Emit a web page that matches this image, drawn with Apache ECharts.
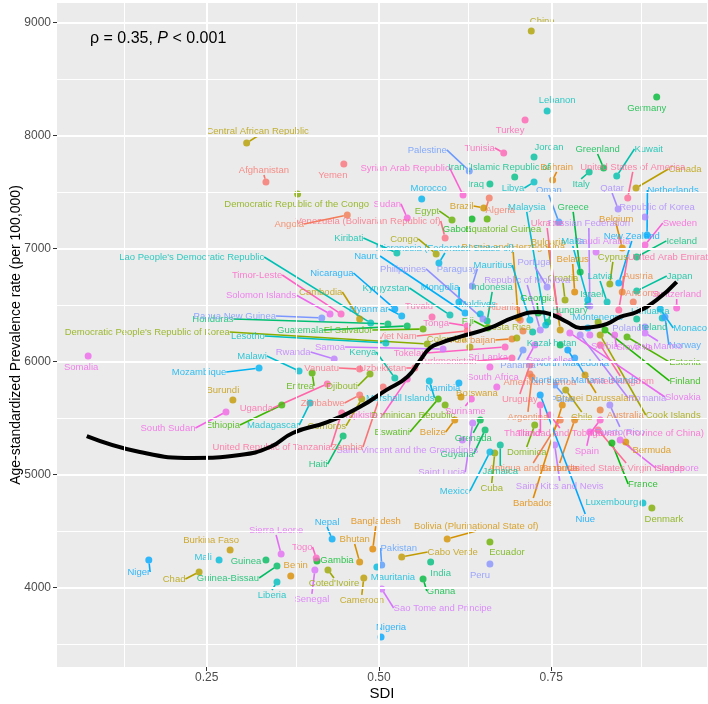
<!DOCTYPE html>
<html>
<head>
<meta charset="utf-8">
<script src="https://cdn.jsdelivr.net/npm/echarts@6/dist/echarts.min.js"></script>
<style>
  html, body { margin: 0; padding: 0; background: #fff; }
  #chart { width: 708px; height: 704px; }
</style>
</head>
<body>
<div id="chart"></div>
<script>
'use strict';

// 国家（按字母顺序，决定配色）
var countries = [
  'Afghanistan', 'Albania', 'Algeria', 'American Samoa', 'Andorra', 'Angola', 'Antigua and Barbuda', 'Argentina', 'Armenia', 'Australia',
  'Austria', 'Azerbaijan', 'Bahamas', 'Bahrain', 'Bangladesh', 'Barbados', 'Belarus', 'Belgium', 'Belize', 'Benin',
  'Bermuda', 'Bhutan', 'Bolivia (Plurinational State of)', 'Bosnia and Herzegovina', 'Botswana', 'Brazil', 'Brunei Darussalam', 'Bulgaria', 'Burkina Faso', 'Burundi',
  'Cabo Verde', 'Cambodia', 'Cameroon', 'Canada', 'Central African Republic', 'Chad', 'Chile', 'China', 'Colombia', 'Comoros',
  'Congo', 'Cook Islands', 'Costa Rica', "Coted'Ivoire", 'Croatia', 'Cuba', 'Cyprus', 'Czechia', "Democratic People's Republic of Korea", 'Democratic Republic of the Congo',
  'Denmark', 'Djibouti', 'Dominica', 'Dominican Republic', 'Ecuador', 'Egypt', 'El Salvador', 'Equatorial Guinea', 'Eritrea', 'Estonia',
  'Eswatini', 'Ethiopia', 'Fiji', 'Finland', 'France', 'Gabon', 'Gambia', 'Georgia', 'Germany', 'Ghana',
  'Greece', 'Greenland', 'Grenada', 'Guam', 'Guatemala', 'Guinea', 'Guinea-Bissau', 'Guyana', 'Haiti', 'Honduras',
  'Hungary', 'Iceland', 'India', 'Indonesia', 'Iran (Islamic Republic of)', 'Iraq', 'Ireland', 'Israel', 'Italy', 'Jamaica',
  'Japan', 'Jordan', 'Kazakhstan', 'Kenya', 'Kiribati', 'Kuwait', 'Kyrgyzstan', "Lao People's Democratic Republic", 'Latvia', 'Lebanon',
  'Lesotho', 'Liberia', 'Libya', 'Lithuania', 'Luxembourg', 'Madagascar', 'Malawi', 'Malaysia', 'Maldives', 'Mali',
  'Malta', 'Marshall Islands', 'Mauritania', 'Mauritius', 'Mexico', 'Micronesia (Federated States of)', 'Monaco', 'Mongolia', 'Montenegro', 'Morocco',
  'Mozambique', 'Myanmar', 'Namibia', 'Nauru', 'Nepal', 'Netherlands', 'New Zealand', 'Nicaragua', 'Niger', 'Nigeria',
  'Niue', 'North Macedonia', 'Northern Mariana Islands', 'Norway', 'Oman', 'Pakistan', 'Palau', 'Palestine', 'Panama', 'Papua New Guinea',
  'Paraguay', 'Peru', 'Philippines', 'Poland', 'Portugal', 'Puerto Rico', 'Qatar', 'Republic of Korea', 'Republic of Moldova', 'Romania',
  'Russian Federation', 'Rwanda', 'Saint Kitts and Nevis', 'Saint Lucia', 'Saint Vincent and the Grenadines', 'Samoa', 'San Marino', 'Sao Tome and Principe', 'Saudi Arabia', 'Senegal',
  'Serbia', 'Seychelles', 'Sierra Leone', 'Singapore', 'Slovakia', 'Slovenia', 'Solomon Islands', 'Somalia', 'South Africa', 'South Sudan',
  'Spain', 'Sri Lanka', 'Sudan', 'Suriname', 'Sweden', 'Switzerland', 'Syrian Arab Republic', 'Taiwan (Province of China)', 'Tajikistan', 'Thailand',
  'Timor-Leste', 'Togo', 'Tokelau', 'Tonga', 'Trinidad and Tobago', 'Tunisia', 'Turkey', 'Turkmenistan', 'Tuvalu', 'Uganda',
  'Ukraine', 'United Arab Emirates', 'United Kingdom', 'United Republic of Tanzania', 'United States of America', 'United States Virgin Islands', 'Uruguay', 'Uzbekistan', 'Vanuatu', 'Venezuela (Bolivarian Republic of)',
  'Viet Nam', 'Yemen', 'Zambia', 'Zimbabwe'
];

// SDI
var sdi = [
  0.336, 0.705, 0.660, 0.719, 0.869, 0.454, 0.763, 0.722, 0.709, 0.821,
  0.853, 0.693, 0.784, 0.752, 0.491, 0.766, 0.784, 0.853, 0.610, 0.372,
  0.858, 0.472, 0.599, 0.702, 0.619, 0.652, 0.799, 0.763, 0.284, 0.288,
  0.533, 0.472, 0.478, 0.873, 0.308, 0.239, 0.771, 0.721, 0.632, 0.475,
  0.583, 0.821, 0.700, 0.426, 0.770, 0.668, 0.835, 0.818, 0.570, 0.382,
  0.896, 0.487, 0.726, 0.596, 0.661, 0.606, 0.564, 0.657, 0.403, 0.860,
  0.586, 0.359, 0.658, 0.828, 0.838, 0.635, 0.410, 0.731, 0.903, 0.564,
  0.792, 0.826, 0.647, 0.763, 0.541, 0.336, 0.352, 0.654, 0.448, 0.513,
  0.745, 0.874, 0.575, 0.657, 0.697, 0.661, 0.874, 0.803, 0.805, 0.676,
  0.874, 0.725, 0.723, 0.523, 0.526, 0.845, 0.603, 0.488, 0.831, 0.744,
  0.510, 0.352, 0.725, 0.911, 0.883, 0.400, 0.384, 0.742, 0.647, 0.268,
  0.803, 0.573, 0.497, 0.719, 0.661, 0.587, 0.908, 0.616, 0.803, 0.562,
  0.326, 0.533, 0.616, 0.625, 0.432, 0.889, 0.848, 0.523, 0.166, 0.503,
  0.734, 0.774, 0.784, 0.915, 0.761, 0.504, 0.755, 0.631, 0.709, 0.417,
  0.635, 0.661, 0.651, 0.886, 0.744, 0.835, 0.847, 0.886, 0.734, 0.792,
  0.806, 0.435, 0.755, 0.636, 0.621, 0.593, 0.886, 0.504, 0.815, 0.407,
  0.806, 0.726, 0.358, 0.850, 0.777, 0.842, 0.429, 0.078, 0.671, 0.278,
  0.806, 0.661, 0.541, 0.634, 0.886, 0.932, 0.622, 0.821, 0.541, 0.734,
  0.445, 0.409, 0.683, 0.628, 0.748, 0.681, 0.712, 0.693, 0.577, 0.425,
  0.760, 0.848, 0.821, 0.446, 0.861, 0.818, 0.719, 0.552, 0.472, 0.596,
  0.628, 0.449, 0.506, 0.472
];

// 年龄标准化患病率 (per 100,000)
var rate = [
  7590, 6369, 7449, 5891, 6528, 7298, 5484, 5865, 6272, 5573,
  6617, 6201, 5484, 7608, 4342, 5617, 6617, 7006, 5484, 4103,
  5289, 4227, 4431, 6387, 5688, 7360, 5882, 6281, 4334, 5661,
  4272, 6378, 4086, 7537, 7935, 4139, 5750, 8927, 6130, 5670,
  6953, 6236, 6210, 4157, 6546, 5192, 6688, 6351, 6157, 7484,
  4705, 5891, 5440, 5617, 4404, 7254, 6289, 7263, 5900, 6219,
  5670, 5617, 6298, 6281, 5280, 7263, 4236, 6431, 8343, 4077,
  6794, 7714, 5484, 6148, 6316, 4245, 4192, 5396, 5342, 6334,
  6351, 6927, 4227, 6360, 7635, 7573, 6378, 6502, 7679, 5263,
  6626, 7812, 6263, 5856, 6962, 7643, 6413, 6342, 6528, 8219,
  6165, 4050, 7590, 6387, 4749, 5634, 5918, 6325, 6422, 4245,
  6546, 5829, 4183, 6369, 5201, 6873, 6466, 6528, 6298, 7440,
  5944, 6404, 5811, 6431, 4431, 7121, 6696, 6466, 4245, 3564,
  5705, 6104, 6033, 6396, 7236, 4201, 5794, 7688, 6104, 6387,
  6670, 4210, 6378, 6307, 6661, 5617, 7351, 7281, 6281, 6236,
  6493, 6024, 5263, 5457, 5307, 6112, 6254, 3988, 6971, 4157,
  6236, 6148, 4298, 5307, 6254, 6236, 6422, 6050, 5776, 5555,
  5378, 5953, 7272, 5670, 7033, 6475, 7475, 5484, 5847, 5617,
  6422, 4263, 6130, 6316, 5528, 7847, 8139, 6033, 6396, 5803,
  6404, 6458, 6148, 5546, 7449, 5396, 5971, 5944, 5935, 7095,
  6272, 7750, 5776, 5705
];

// 标签相对点的像素偏移 [dx, dy]；null 表示不显示标签
var labelOffsets = [
  [-2, -12], [-17, -13], [11, 12], [10, 8], [9, -9], [-58, 9], [-27, 48], [-4, 40], null, [25, 5],
  [16, -16], [-39, 1], [-15, 48], [4, -13], [3, -28], [-29, 98], [-2, -33], [-6, -29], [-22, 12], [5, -11],
  [26, 8], [-5, -23], [29, -13], [-5, -71], [16, -4], [-22, -2], [11, 23], [-12, -88], [-19, -10], [-10, -10],
  [51, -5], [-39, -27], [-2, 22], [49, -19], [11, -12], [-25, 7], [16, 27], [11, -10], [-23, -8], [-35, 27],
  [-32, -15], [73, 80], [-9, -11], [6, 13], [-2, -22], [-3, 35], [3, -27], null, [-280, -12], [-1, 10],
  [12, 11], [-28, 12], [-8, 27], [-32, 10], [17, 10], [-25, -9], [-75, 1], [16, 10], [-12, 13], [58, 25],
  [-46, 33], [-59, 20], [-20, -7], [80, 51], [31, 41], [-15, 10], [20, -1], [-1, -15], [-10, 11], [18, 12],
  [-7, -65], [-6, -19], [-7, 18], null, [-107, 4], [-20, 1], [-49, 12], [-28, 24], [-25, 28], [-175, -5],
  [22, -12], [45, -16], [10, 11], [5, -34], [-14, -10], [-14, 0], [16, 8], [4, -11], [-8, 12], [0, 26],
  [43, -15], [15, -10], [19, 11], [-32, -26], [-48, -15], [32, -27], [-64, -27], [-179, -66], [-7, -26], [10, -11],
  [-138, -7], [-5, 13], [-21, 6], [-12, -7], [-31, -1], [-37, 22], [-47, -15], [-19, -118], [-3, -10], [-16, -3],
  [-15, -59], [-29, 17], [16, 10], [-37, -55], [-35, 39], [6, -15], [30, 19], [-19, -15], [10, -11], [7, -11],
  [-60, 4], [-33, -7], [-16, 5], [-98, -57], [-5, -17], [26, -45], [13, -47], [-63, -36], [-10, 12], [10, -10],
  [45, 124], [5, 13], [10, 22], [20, 28], [-10, -32], [17, -17], [8, 14], [-42, -21], [-5, 15], [-87, -2],
  [-15, -17], [-10, 11], [-80, -50], [-18, 1], [-12, -25], [10, 27], [-6, -21], [12, -10], [-13, -50], [67, 63],
  [-1, -83], [-41, -7], [5, 41], [-31, 49], [-55, 10], [-113, -2], [13, 13], [61, 19], [7, -11], [-3, 29],
  [15, 11], [15, 15], [-5, -24], [57, 28], [113, 64], [20, 12], [-69, -19], [-7, 11], [-4, -10], [-58, 16],
  [-3, 19], [-2, -10], [-20, -14], [-6, 12], [35, -22], [0, -14], [-58, -27], [47, 13], [-44, 36], [-18, 28],
  [-84, -39], [-14, -11], [-95, 6], [-31, -3], [10, 18], [-24, -5], [-15, 10], [-64, 3], [-13, -11], [-71, 24],
  [-11, -93], [54, -53], [20, 36], [-70, 34], [5, -31], [28, 38], [-10, 34], [-32, 0], [-38, -1], [-77, -17],
  [-70, 5], [-11, 11], [-36, 60], [-37, 8]
];

// 拟合曲线
var curveSdi = [0.076, 0.153, 0.230, 0.298, 0.342, 0.375, 0.425, 0.472, 0.511, 0.541, 0.560, 0.574, 0.589,
  0.617, 0.661, 0.694, 0.731, 0.752, 0.773, 0.792, 0.811, 0.831, 0.850, 0.874, 0.903, 0.932];
var curveRate = [5342, 5201, 5148, 5174, 5245, 5369, 5466, 5599, 5750, 5865, 6015, 6121, 6165,
  6219, 6299, 6387, 6440, 6413, 6351, 6299, 6307, 6334, 6396, 6440, 6546, 6706];

var xTicks = [0.25, 0.5, 0.75];
var xMinor = [0.125, 0.375, 0.625, 0.875];
var yTicks = [4000, 5000, 6000, 7000, 8000, 9000];
var yMinor = [3500, 4500, 5500, 6500, 7500, 8500];

// ggplot2 默认色盘 (hcl, c=100, l=65)
function hueColor(i, n) {
    var h = (15 + 360 * i / n) * Math.PI / 180;
    var c = 100, l = 65;
    var U = c * Math.cos(h), V = c * Math.sin(h);
    var Xn = 95.047, Yn = 100, Zn = 108.883;
    var den = Xn + 15 * Yn + 3 * Zn;
    var un = 4 * Xn / den, vn = 9 * Yn / den;
    var Y = Yn * Math.pow((l + 16) / 116, 3);
    var u = U / (13 * l) + un, v = V / (13 * l) + vn;
    var X = 9 * Y * u / (4 * v);
    var Z = Y * (12 - 3 * u - 20 * v) / (4 * v);
    X /= 100; Y /= 100; Z /= 100;
    var rgb = [
        3.240479 * X - 1.537150 * Y - 0.498535 * Z,
        -0.969256 * X + 1.875992 * Y + 0.041556 * Z,
        0.055648 * X - 0.204043 * Y + 1.057311 * Z
    ];
    return '#' + rgb.map(function (t) {
        t = t <= 0.0031308 ? 12.92 * t : 1.055 * Math.pow(t, 1 / 2.4) - 0.055;
        t = Math.round(Math.max(0, Math.min(1, t)) * 255);
        return (t < 16 ? '0' : '') + t.toString(16);
    }).join('');
}

var n = countries.length;
var points = countries.map(function (name, i) {
    var col = hueColor(i, n);
    var off = labelOffsets[i];
    var showLine = false;
    if (off) {
        var gx = Math.max(0, Math.abs(off[0]) - name.length * 2.5);
        var gy = Math.max(0, Math.abs(off[1]) - 5.5);
        showLine = Math.sqrt(gx * gx + gy * gy) > 6;
    }
    return {
        name: name,
        value: [sdi[i], rate[i]],
        itemStyle: {color: col},
        label: {show: !!off, color: col},
        labelLine: {show: showLine, lineStyle: {color: col}}
    };
});

var gridLines = [];
xMinor.forEach(function (v) { gridLines.push({xAxis: v, lineStyle: {width: 1}}); });
yMinor.forEach(function (v) { gridLines.push({yAxis: v, lineStyle: {width: 1}}); });
xTicks.forEach(function (v) { gridLines.push({xAxis: v, lineStyle: {width: 2}}); });
yTicks.forEach(function (v) { gridLines.push({yAxis: v, lineStyle: {width: 2}}); });

var chart = echarts.init(document.getElementById('chart'));
var font = 'Liberation Sans, Arial, sans-serif';

chart.setOption({
    animation: false,
    textStyle: {fontFamily: font},
    grid: {left: 57, right: 1, top: 3, bottom: 37, containLabel: false, outerBoundsMode: 'none',
        show: true, backgroundColor: '#EBEBEB', borderWidth: 0},
    xAxis: {
        type: 'value', min: 0.0328, max: 0.976,
        name: 'SDI', nameLocation: 'middle', nameGap: 19, nameMoveOverlap: false,
        nameTextStyle: {fontSize: 15, color: '#000', fontFamily: font},
        axisLine: {show: false},
        axisTick: {show: true, length: 4, customValues: xTicks, lineStyle: {color: '#333', width: 1}},
        axisLabel: {customValues: xTicks, margin: 5, fontSize: 12, color: '#4D4D4D', fontFamily: font,
            formatter: function (v) { return v.toFixed(2); }},
        splitLine: {show: false}
    },
    yAxis: {
        type: 'value', min: 3298, max: 9174,
        name: 'Age-standardized Prevalence rate (per 100,000)', nameLocation: 'middle', nameGap: 34,
        nameMoveOverlap: false,
        nameTextStyle: {fontSize: 14, color: '#000', fontFamily: font},
        axisLine: {show: false},
        axisTick: {show: true, length: 4, customValues: yTicks, lineStyle: {color: '#333', width: 1}},
        axisLabel: {customValues: yTicks, margin: 6, fontSize: 12, color: '#4D4D4D', fontFamily: font,
            formatter: function (v) { return String(v); }},
        splitLine: {show: false}
    },
    graphic: [{
        type: 'text', left: 90, top: 31, z: 10,
        style: {
            text: '{a|ρ = 0.35, }{i|P}{a| < 0.001}',
            rich: {
                a: {fontSize: 16, fill: '#000', fontFamily: font},
                i: {fontSize: 16, fill: '#000', fontStyle: 'italic', fontFamily: font}
            }
        }
    }],
    series: [
        {
            type: 'line', data: [], silent: true, z: 0,
            markLine: {silent: true, symbol: 'none', animation: false,
                label: {show: false}, lineStyle: {color: '#fff', type: 'solid'},
                emphasis: {disabled: true}, data: gridLines}
        },
        {
            type: 'scatter', z: 2, symbolSize: 7,
            data: points,
            label: {show: true, fontSize: 9.5, fontFamily: font, formatter: '{b}'},
            labelLine: {show: true, lineStyle: {width: 1.6}},
            labelLayout: function (p) {
                var off = labelOffsets[p.dataIndex];
                if (!off) { return {}; }
                return {
                    x: p.rect.x + p.rect.width / 2 + off[0],
                    y: p.rect.y + p.rect.height / 2 + off[1],
                    align: 'center', verticalAlign: 'middle'
                };
            }
        },
        {
            type: 'line', z: 3, smooth: true, symbol: 'none', silent: true,
            data: curveSdi.map(function (x, i) { return [x, curveRate[i]]; }),
            lineStyle: {color: '#000', width: 4}
        }
    ]
});
</script>
</body>
</html>
